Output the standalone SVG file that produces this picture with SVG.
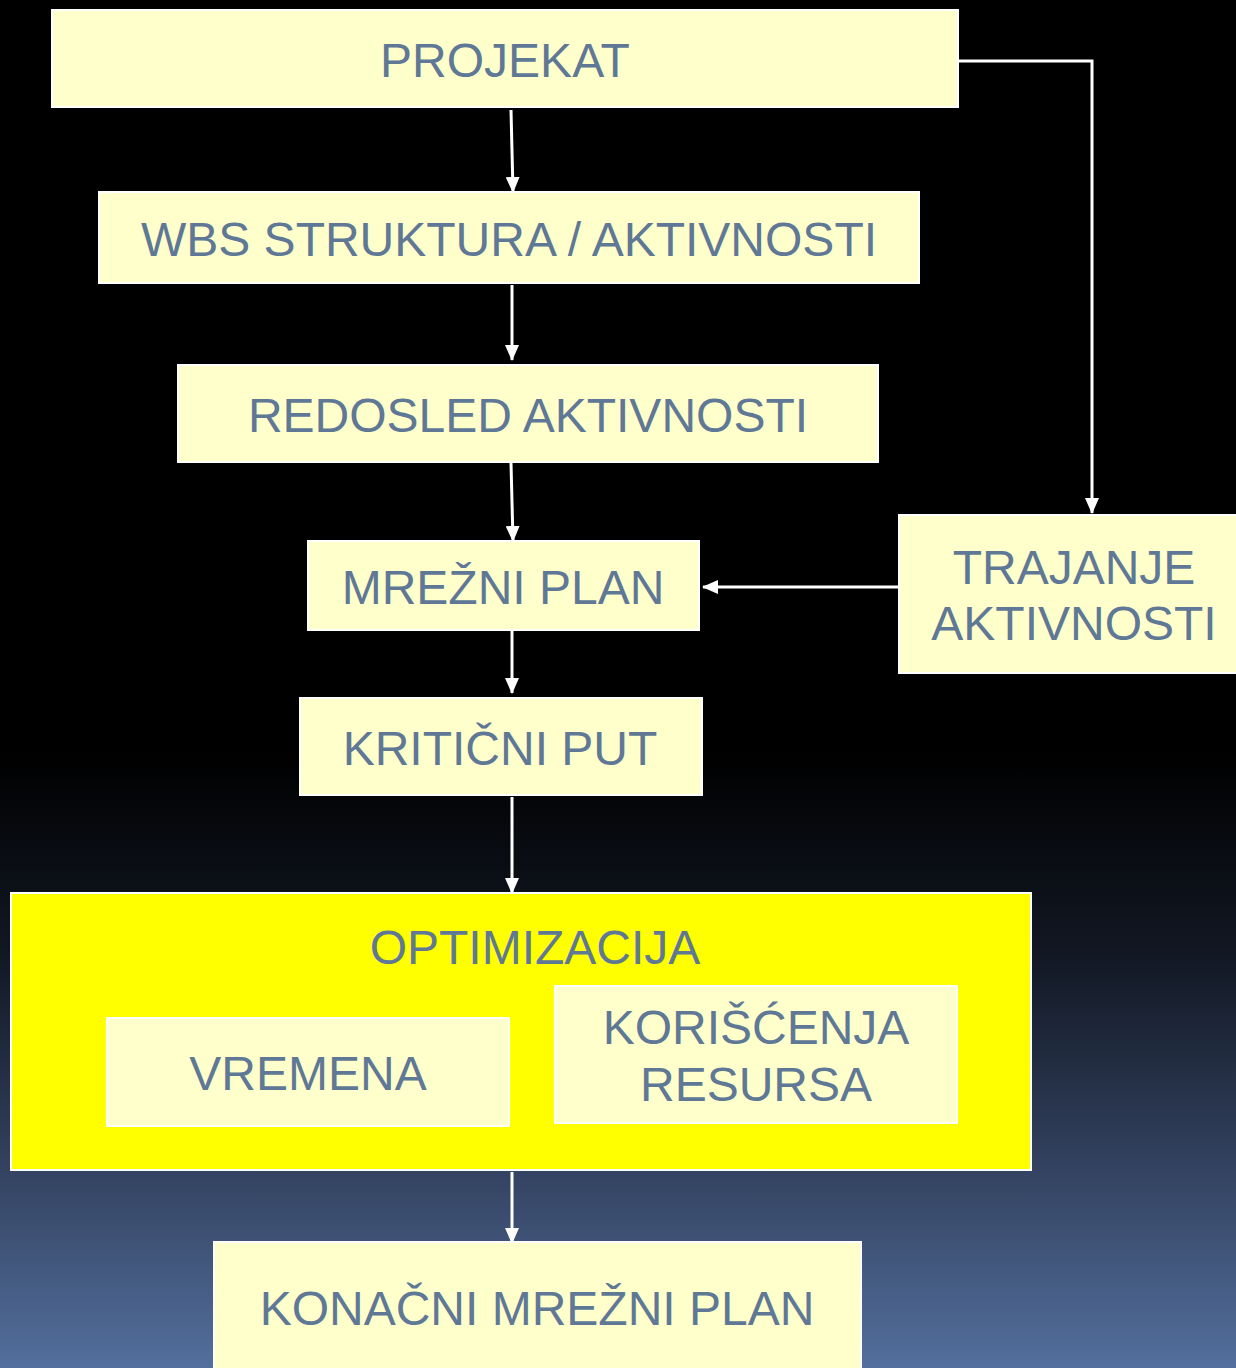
<svg xmlns="http://www.w3.org/2000/svg" width="1236" height="1368" viewBox="0 0 1236 1368">
<defs>
<linearGradient id="bg" x1="0" y1="0" x2="0" y2="1368" gradientUnits="userSpaceOnUse">
<stop offset="0" stop-color="#000000"/>
<stop offset="0.55" stop-color="#000000"/>
<stop offset="0.7" stop-color="#121824"/>
<stop offset="0.85" stop-color="#32415e"/>
<stop offset="1" stop-color="#536f9d"/>
</linearGradient>
<marker id="ah" markerWidth="16" markerHeight="14" refX="15" refY="7" orient="auto" markerUnits="userSpaceOnUse">
<path d="M0,0 L16,7 L0,14 Z" fill="#ffffff"/>
</marker>
<style>
.box{fill:#ffffcc;stroke:#ffffff;stroke-width:2}
.outer{fill:#ffff00;stroke:#ffffff;stroke-width:2}
.t{font-family:"Liberation Sans",Arial,sans-serif;font-size:48px;fill:#5f7896;text-anchor:middle}
.c{stroke:#ffffff;stroke-width:3;fill:none}
</style>
</defs>
<rect width="1236" height="1368" fill="url(#bg)"/>
<g id="n-projekat"><rect class="box" x="52" y="10" width="906" height="97"/><text class="t" x="505" y="77">PROJEKAT</text></g>
<g id="n-wbs"><rect class="box" x="99" y="192" width="820" height="91"/><text class="t" x="509" y="256">WBS STRUKTURA / AKTIVNOSTI</text></g>
<g id="n-redosled"><rect class="box" x="178" y="365" width="700" height="97"/><text class="t" x="528" y="432">REDOSLED AKTIVNOSTI</text></g>
<g id="n-mrezni"><rect class="box" x="308" y="541" width="391" height="89"/><text class="t" x="503" y="604">MREŽNI PLAN</text></g>
<g id="n-trajanje"><rect class="box" x="899" y="515" width="345" height="158"/><text class="t" x="1074" y="584">TRAJANJE</text><text class="t" x="1074" y="640">AKTIVNOSTI</text></g>
<g id="n-kriticni"><rect class="box" x="300" y="698" width="402" height="97"/><text class="t" x="500" y="765">KRITIČNI PUT</text></g>
<g id="n-optimizacija"><rect class="outer" x="11" y="893" width="1020" height="277"/><text class="t" x="535" y="964">OPTIMIZACIJA</text></g>
<g id="n-vremena"><rect class="box" x="107" y="1018" width="402" height="108"/><text class="t" x="308" y="1090">VREMENA</text></g>
<g id="n-koriscenja"><rect class="box" x="555" y="986" width="402" height="137"/><text class="t" x="756" y="1044">KORIŠĆENJA</text><text class="t" x="756" y="1101">RESURSA</text></g>
<g id="n-konacni"><rect class="box" x="214" y="1242" width="647" height="140"/><text class="t" x="537" y="1325">KONAČNI MREŽNI PLAN</text></g>
<g id="connectors">
<line class="c" x1="511" y1="110" x2="513" y2="192" marker-end="url(#ah)"/>
<line class="c" x1="512" y1="285" x2="512" y2="360" marker-end="url(#ah)"/>
<line class="c" x1="511" y1="463" x2="513" y2="541" marker-end="url(#ah)"/>
<line class="c" x1="512" y1="631" x2="512" y2="693" marker-end="url(#ah)"/>
<line class="c" x1="512" y1="797" x2="512" y2="893" marker-end="url(#ah)"/>
<line class="c" x1="512" y1="1172" x2="512" y2="1243" marker-end="url(#ah)"/>
<polyline class="c" points="958,61 1092,61 1092,513" marker-end="url(#ah)"/>
<line class="c" x1="899" y1="587" x2="703" y2="587" marker-end="url(#ah)"/>
</g>
</svg>
